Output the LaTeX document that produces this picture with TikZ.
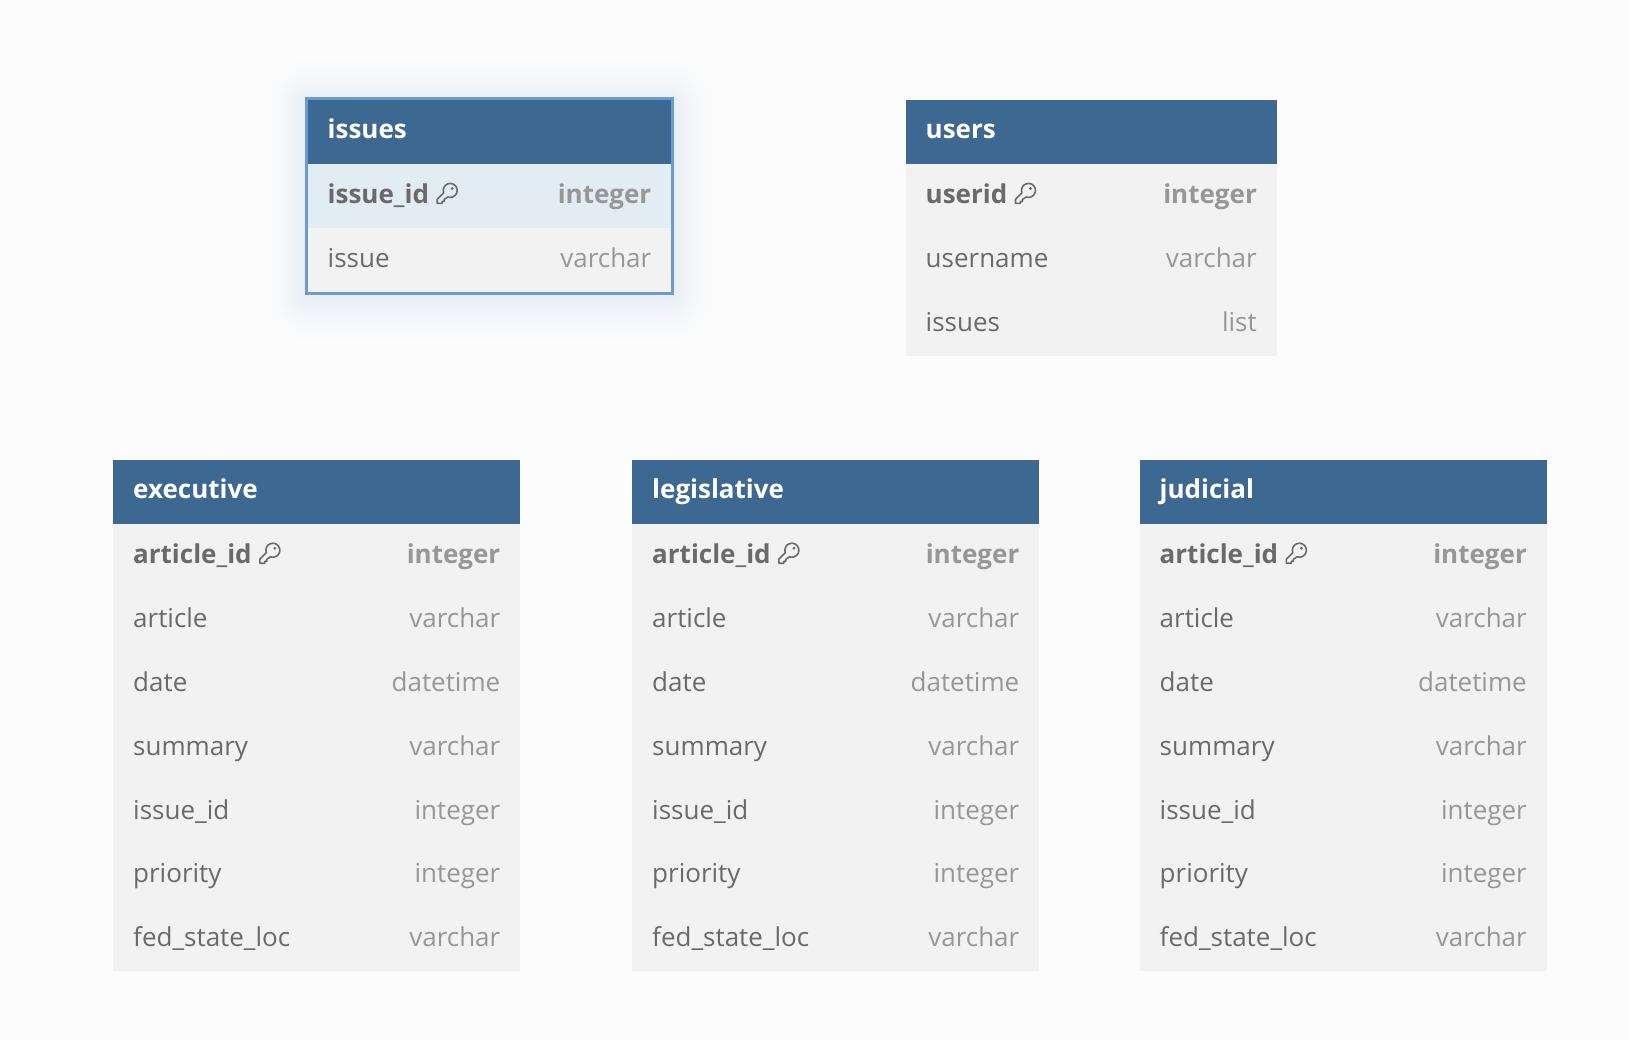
\documentclass[tikz,border=0pt]{standalone}
\usepackage{fontspec}
\setmainfont{Open Sans}
\usepackage{tikz}
\usetikzlibrary{positioning}
\definecolor{pagebg}{HTML}{FCFCFC}
\definecolor{headblue}{HTML}{3D6892}
\definecolor{rowgray}{HTML}{F2F2F2}
\definecolor{rowpick}{HTML}{E2ECF3}
\definecolor{pickline}{HTML}{6C9BCD}
\definecolor{namegray}{HTML}{6A6A6A}
\definecolor{typegray}{HTML}{979797}
\tikzset{
  cell/.style={inner sep=0pt,outer sep=0pt,minimum height=63.95pt,fill=rowgray},
  headcell/.style={cell,fill=headblue},
  headtext/.style={inner sep=0pt,text=white,font=\fontsize{26}{30}\selectfont\bfseries,text height=14pt,text depth=0pt},
  nametext/.style={inner sep=0pt,text=namegray,font=\fontsize{26}{30}\selectfont,text height=15pt,text depth=0pt},
  typetext/.style={inner sep=0pt,text=typegray,font=\fontsize{26}{30}\selectfont,text height=15pt,text depth=0pt},
  bold/.style={font=\fontsize{26}{30}\selectfont\bfseries},
  keyicon/.pic={
    \draw[namegray,line width=1.6pt,line join=round]
      (-3.58,-0.61) arc (160:470:7) -- (-3,6) -- (-3,8) -- (-5,8) -- (-5,10) -- (-10,10) -- (-10,6) -- cycle;
    \fill[namegray] (5,-5) circle (1.6);
  }
}
\begin{document}
\begin{tikzpicture}[x=1pt,y=-1pt]
\useasboundingbox (0,0) rectangle (1630,1040);
\fill[pagebg] (0,0) rectangle (1630,1040);
% glow round the picked table
\foreach \g in {50,49,...,1}{
\pgfmathsetmacro\mixp{14*(1-\g/50)*(1-\g/50)}
\fill[pickline!\mixp!pagebg,rounded corners=\g pt] (304-\g,97-\g+4) rectangle (674+\g,295+\g+4);
}
\node[headcell,anchor=north west,minimum width=366.5pt] (issues) at (306,100) {};
\node[cell,fill=rowpick,minimum width=366.5pt,below=0pt of issues] (issues1) {};
\node[cell,minimum width=366.5pt,below=0pt of issues1] (issues2) {};
\node[headtext,anchor=west,xshift=21.5pt] (issuest) at (issues.west) {issues};
\node[nametext,bold,anchor=west,xshift=21.5pt] (issues1n) at (issues1.west) {issue\_id};
\node[typetext,bold,anchor=east,xshift=-21pt] (issues1t) at (issues1.east) {integer};
\node[nametext,anchor=west,xshift=21.5pt] (issues2n) at (issues2.west) {issue};
\node[typetext,anchor=east,xshift=-21pt] (issues2t) at (issues2.east) {varchar};
\pic at ([xshift=18pt,yshift=2.5pt]issues1n.east) {keyicon};
\node[draw=pickline,line width=3pt,inner sep=0pt,outer sep=0pt,anchor=north west,minimum width=366.5pt,minimum height=194.75pt] (issuesframe) at (306,98.75) {};
% users
\node[headcell,anchor=north west,minimum width=371pt] (users) at (905.5,100) {};
\node[headtext,anchor=west,xshift=20pt] (userst) at (users.west) {users};
\node[cell,minimum width=371pt,below=0pt of users] (users1) {};
\node[nametext,bold,anchor=west,xshift=20pt] (users1n) at (users1.west) {userid};
\node[typetext,bold,anchor=east,xshift=-19.5pt] (users1t) at (users1.east) {integer};
\pic at ([xshift=18pt,yshift=2.5pt]users1n.east) {keyicon};
\foreach \i/\j/\nm/\ty in {2/1/username/varchar,3/2/issues/list}{
\node[cell,minimum width=371pt,below=0pt of users\j] (users\i) {};
\node[nametext,anchor=west,xshift=20pt] (users\i n) at (users\i.west) {\nm};
\node[typetext,anchor=east,xshift=-19.5pt] (users\i t) at (users\i.east) {\ty};
}
% the three branches
\foreach \tab/\lft in {executive/113,legislative/632,judicial/1139.5}{
\node[headcell,anchor=north west,minimum width=407pt] (\tab) at (\lft,459.8) {};
\node[headtext,anchor=west,xshift=20pt] (\tab t) at (\tab.west) {\tab};
\node[cell,minimum width=407pt,below=0pt of \tab] (\tab1) {};
\node[nametext,bold,anchor=west,xshift=20pt] (\tab1n) at (\tab1.west) {article\_id};
\node[typetext,bold,anchor=east,xshift=-19.5pt] (\tab1t) at (\tab1.east) {integer};
\pic at ([xshift=18pt,yshift=2.5pt]\tab1n.east) {keyicon};
\foreach \i/\j/\nm/\ty in {2/1/article/varchar,3/2/date/datetime,4/3/summary/varchar,5/4/issue\_id/integer,6/5/priority/integer,7/6/fed\_state\_loc/varchar}{
\node[cell,minimum width=407pt,below=0pt of \tab\j] (\tab\i) {};
\node[nametext,anchor=west,xshift=20pt] (\tab\i n) at (\tab\i.west) {\nm};
\node[typetext,anchor=east,xshift=-19.5pt] (\tab\i t) at (\tab\i.east) {\ty};
}
}
\end{tikzpicture}
\end{document}
